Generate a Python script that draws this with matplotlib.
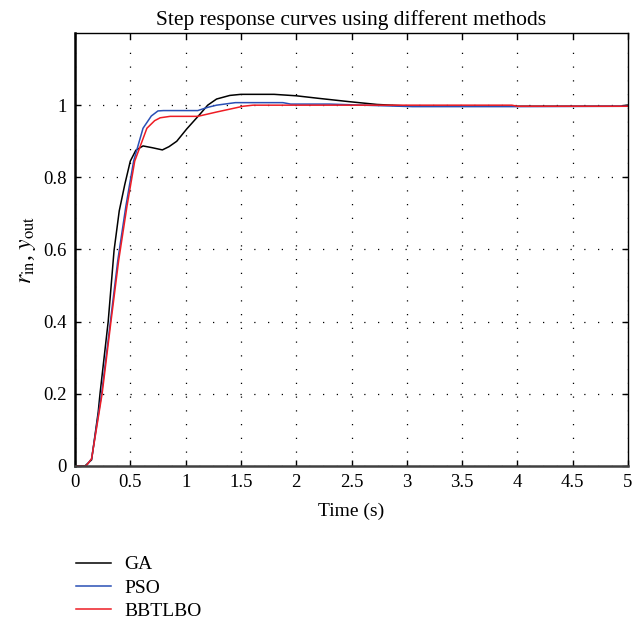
import matplotlib
matplotlib.use("Agg")
import matplotlib.pyplot as plt
from matplotlib.lines import Line2D

plt.rcParams['font.family'] = ['Liberation Serif', 'DejaVu Serif']
plt.rcParams['mathtext.fontset'] = 'stix'

# ---- data ----
ga_t = [0, 0.09, 0.15, 0.21, 0.226, 0.30, 0.353, 0.40, 0.45, 0.50, 0.55, 0.615,
        0.70, 0.79, 0.85, 0.92, 1.01, 1.13, 1.20, 1.28, 1.40, 1.50, 1.80, 2.00,
        2.20, 2.47, 2.73, 3.05, 4.00, 4.93, 5.00]
ga_y = [0, 0, 0.017, 0.15, 0.2, 0.4, 0.597, 0.707, 0.78, 0.845, 0.875, 0.887,
        0.882, 0.876, 0.885, 0.90, 0.934, 0.975, 1.0, 1.017, 1.027, 1.030, 1.030, 1.026,
        1.019, 1.010, 1.002, 0.997, 0.997, 0.997, 1.0]

pso_t = [0, 0.10, 0.15, 0.24, 0.32, 0.387, 0.46, 0.53, 0.615, 0.69, 0.75, 0.80,
         1.11, 1.20, 1.28, 1.45, 1.88, 1.95, 2.30, 2.60, 3.05, 3.97, 5.00]
pso_y = [0, 0, 0.02, 0.2, 0.4, 0.57, 0.72, 0.845, 0.936, 0.97, 0.984, 0.985,
         0.985, 0.994, 1.0, 1.007, 1.007, 1.003, 1.003, 1.0, 0.996, 0.996, 0.997]

bb_t = [0, 0.10, 0.15, 0.245, 0.325, 0.395, 0.47, 0.54, 0.65, 0.72, 0.77, 0.86,
        1.11, 1.28, 1.52, 1.61, 3.95, 4.00, 5.00]
bb_y = [0, 0, 0.02, 0.2, 0.4, 0.57, 0.72, 0.845, 0.936, 0.957, 0.965, 0.969,
        0.969, 0.981, 0.997, 1.0, 1.0, 0.997, 0.997]

x_ticks = [0, 0.5, 1, 1.5, 2, 2.5, 3, 3.5, 4, 4.5, 5]
x_labels = ['0', '0.5', '1', '1.5', '2', '2.5', '3', '3.5', '4', '4.5', '5']
y_ticks = [0, 0.2, 0.4, 0.6, 0.8, 1.0]
y_labels = ['0', '0.2', '0.4', '0.6', '0.8', '1']

series = [("GA", ga_t, ga_y, "#000000"),
          ("PSO", pso_t, pso_y, "#2a4fb5"),
          ("BBTLBO", bb_t, bb_y, "#ee1c24")]

fig = plt.figure(figsize=(6.43, 6.19), dpi=100)
ax = fig.add_axes([75/643, 1 - 466/619, (628-75)/643, (466-33)/619])

for name, t, y, c in series:
    ax.plot(t, y, color=c, lw=1.1, label=name)

ax.set_xlim(0, 5)
ax.set_ylim(0, 1.2)
ax.set_xticks(x_ticks)
ax.set_xticklabels(x_labels)
ax.set_yticks(y_ticks)
ax.set_yticklabels(y_labels)
ax.tick_params(direction='in', top=True, right=True, labelsize=13.5, length=4,
               width=1, pad=6)
ax.grid(True, color='black', linestyle=(0, (1, 10)), linewidth=0.9)

ax.spines['left'].set_linewidth(1.8)
ax.spines['bottom'].set_linewidth(1.8)
ax.spines['bottom'].set_color('#404040')
ax.spines['top'].set_linewidth(1.0)
ax.spines['right'].set_linewidth(1.0)

ax.set_title("Step response curves using different methods", fontsize=15.5, pad=6)
ax.set_xlabel("Time (s)", fontsize=14, labelpad=8)
ax.set_ylabel(r"$r_{\rm in}$, $y_{\rm out}$", fontsize=17, labelpad=4)

handles = [Line2D([], [], color=c, lw=1.1) for _, _, _, c in series]
labels = [s[0] for s in series]
fig.legend(handles, labels, loc='upper left', bbox_to_anchor=(68/643, 1 - 548/619),
           frameon=False, fontsize=14, handlelength=1.8, handletextpad=0.7,
           labelspacing=0.3, borderaxespad=0)

fig.savefig("out.png", dpi=100)
